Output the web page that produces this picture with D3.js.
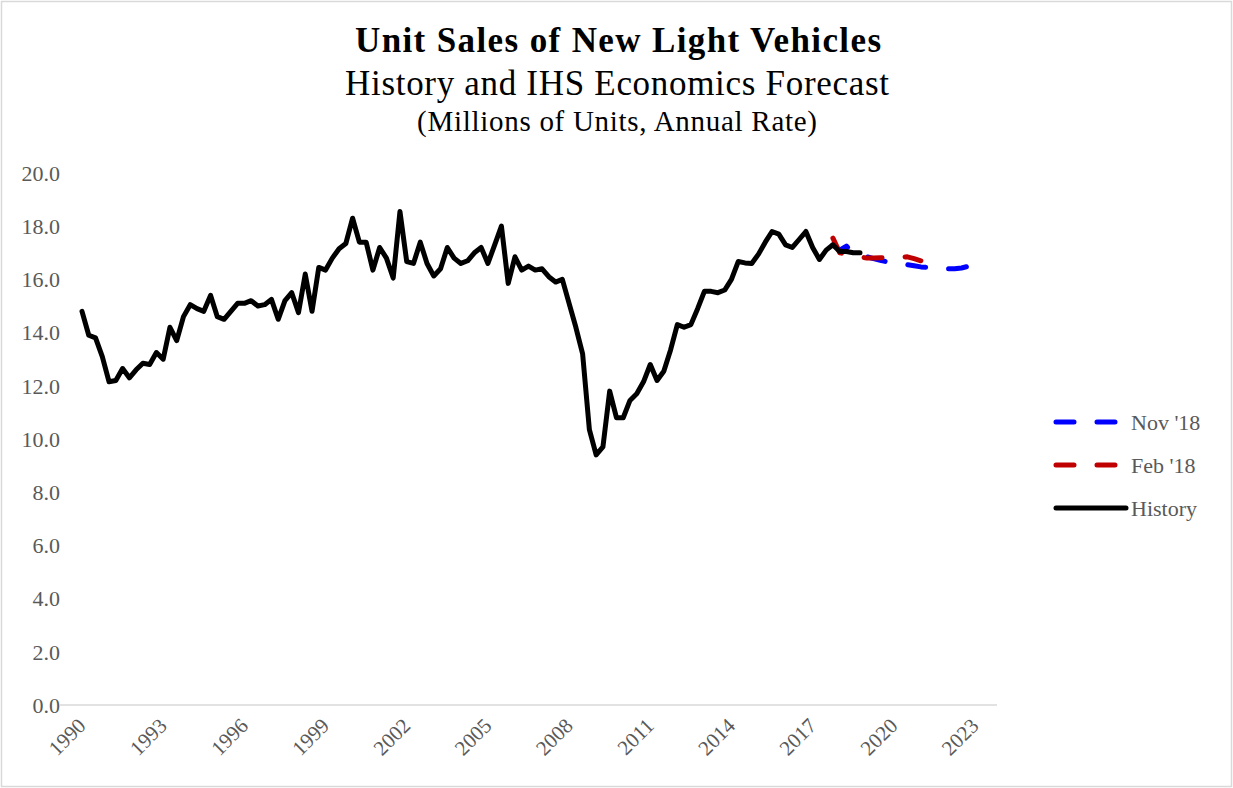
<!DOCTYPE html>
<html lang="en">
<head>
<meta charset="utf-8">
<script src="https://d3js.org/d3.v7.min.js"></script>
<style>
  body { margin: 0; background: #fff; }
  text { font-family: "Liberation Serif", "Times New Roman", serif; }
</style>
</head>
<body>
<script>

// quarterly history, 1990Q1 .. 2018Q4
const histStart = 1990
const history = [
  14.8, 13.9, 13.8, 13.1,
  12.15, 12.2, 12.65, 12.3,
  12.6, 12.85, 12.8, 13.25,
  13.0, 14.2, 13.7, 14.6,
  15.05, 14.9, 14.8, 15.4,
  14.6, 14.5, 14.8, 15.1,
  15.1, 15.2, 15.0, 15.05,
  15.25, 14.5, 15.2, 15.5,
  14.75, 16.2, 14.8, 16.45,
  16.35, 16.8, 17.15, 17.35,
  18.3, 17.4, 17.4, 16.35,
  17.2, 16.8, 16.05, 18.55,
  16.67, 16.6, 17.4, 16.6,
  16.13, 16.4, 17.2, 16.8,
  16.6, 16.7, 17.0, 17.2,
  16.6, 17.3, 18.0, 15.85,
  16.85, 16.35, 16.5, 16.35,
  16.4, 16.1, 15.9, 16.0,
  15.1, 14.2, 13.2, 10.35,
  9.4, 9.7, 11.8, 10.8,
  10.8, 11.45, 11.7, 12.15,
  12.8, 12.2, 12.55, 13.35,
  14.3, 14.2, 14.3, 14.9,
  15.55, 15.55, 15.5, 15.6,
  16.0, 16.67, 16.62, 16.6,
  16.95, 17.4, 17.8, 17.7,
  17.3, 17.2, 17.5, 17.8,
  17.2, 16.75, 17.1, 17.3,
  17.05, 17.05, 17.0, 17.0
]

// forecasts, quarterly from 2017Q4
const fcStart = 2017.75
const nov18 = [17.3, 17.1, 17.25, 17.0, 16.95, 16.85, 16.78, 16.72, 16.66, 16.62, 16.58, 16.55, 16.51,
  16.47, 16.45, 16.43, 16.41, 16.4, 16.4, 16.43, 16.49, 16.56]
const feb18 = [17.55, 17.0, 16.95, 16.9, 16.85, 16.8, 16.8, 16.81, 16.82, 16.83, 16.84, 16.85, 16.78, 16.7]

const yTicks = [0, 2, 4, 6, 8, 10, 12, 14, 16, 18, 20]
const xTicks = [1990, 1993, 1996, 1999, 2002, 2005, 2008, 2011, 2014, 2017, 2020, 2023]

const series = [
  {name: "Nov '18", start: fcStart, values: nov18, color: '#0000ff', dash: '18,23'},
  {name: "Feb '18", start: fcStart, values: feb18, color: '#c00000', dash: '18,23'},
  {name: 'History', start: histStart, values: history, color: '#000000', dash: null}
]

const W = 1233, H = 788

const svg = d3.select('body').append('svg')
  .attr('width', W)
  .attr('height', H)

svg.append('rect')
  .attr('x', 1.5).attr('y', 1.5)
  .attr('width', W - 3).attr('height', H - 3)
  .attr('fill', '#fff')
  .attr('stroke', '#d9d9d9')
  .attr('stroke-width', 1.5)

// titles (widths stretched a bit to match the garamond-ish original)
svg.append('text')
  .attr('x', 618).attr('y', 52)
  .attr('text-anchor', 'middle')
  .attr('font-size', 35).attr('font-weight', 'bold')
  .attr('textLength', 526).attr('lengthAdjust', 'spacing')
  .attr('fill', '#000')
  .text('Unit Sales of New Light Vehicles')
svg.append('text')
  .attr('x', 617).attr('y', 95)
  .attr('text-anchor', 'middle')
  .attr('font-size', 35)
  .attr('textLength', 544).attr('lengthAdjust', 'spacing')
  .attr('fill', '#000')
  .text('History and IHS Economics Forecast')
svg.append('text')
  .attr('x', 617).attr('y', 131)
  .attr('text-anchor', 'middle')
  .attr('font-size', 29)
  .attr('textLength', 400).attr('lengthAdjust', 'spacing')
  .attr('fill', '#000')
  .text('(Millions of Units, Annual Rate)')

const x = d3.scaleLinear().domain([1990, 2023]).range([82, 975])
const y = d3.scaleLinear().domain([0, 20]).range([705, 173])

// axis line
svg.append('line')
  .attr('x1', 60).attr('x2', 997)
  .attr('y1', y(0)).attr('y2', y(0))
  .attr('stroke', '#d9d9d9')
  .attr('stroke-width', 1.5)

// y labels
svg.selectAll('.ylab')
  .data(yTicks)
  .enter().append('text')
  .attr('class', 'ylab')
  .attr('x', 60)
  .attr('y', d => y(d))
  .attr('dy', '0.35em')
  .attr('text-anchor', 'end')
  .attr('font-size', 22)
  .attr('fill', '#595959')
  .text(d => d3.format('.1f')(d))

// x labels, rotated
svg.selectAll('.xlab')
  .data(xTicks)
  .enter().append('text')
  .attr('class', 'xlab')
  .attr('text-anchor', 'end')
  .attr('font-size', 21)
  .attr('fill', '#595959')
  .attr('transform', d => 'translate(' + (x(d) + 5) + ',' + 727 + ') rotate(-45)')
  .text(d => d)

const line = d3.line()
  .x(d => x(d[0]))
  .y(d => y(d[1]))

series.forEach(function(s) {
  const pts = s.values.map((v, i) => [s.start + i * 0.25, v])
  svg.append('path')
    .datum(pts)
    .attr('fill', 'none')
    .attr('stroke', s.color)
    .attr('stroke-width', 5)
    .attr('stroke-linejoin', 'round')
    .attr('stroke-linecap', 'round')
    .attr('stroke-dasharray', s.dash)
    .attr('d', line)
})

// legend
const legend = svg.selectAll('.leg')
  .data(series)
  .enter().append('g')
  .attr('class', 'leg')
  .attr('transform', (d, i) => 'translate(1056,' + (422 + i * 43) + ')')

legend.append('line')
  .attr('x1', 0).attr('x2', d => d.dash ? 64 : 70)
  .attr('y1', 0).attr('y2', 0)
  .attr('stroke', d => d.color)
  .attr('stroke-width', 5)
  .attr('stroke-linecap', 'round')
  .attr('stroke-dasharray', d => d.dash)

legend.append('text')
  .attr('x', 75)
  .attr('y', 0)
  .attr('dy', '0.35em')
  .attr('font-size', 22)
  .attr('fill', '#595959')
  .text(d => d.name)

</script>
</body>
</html>
